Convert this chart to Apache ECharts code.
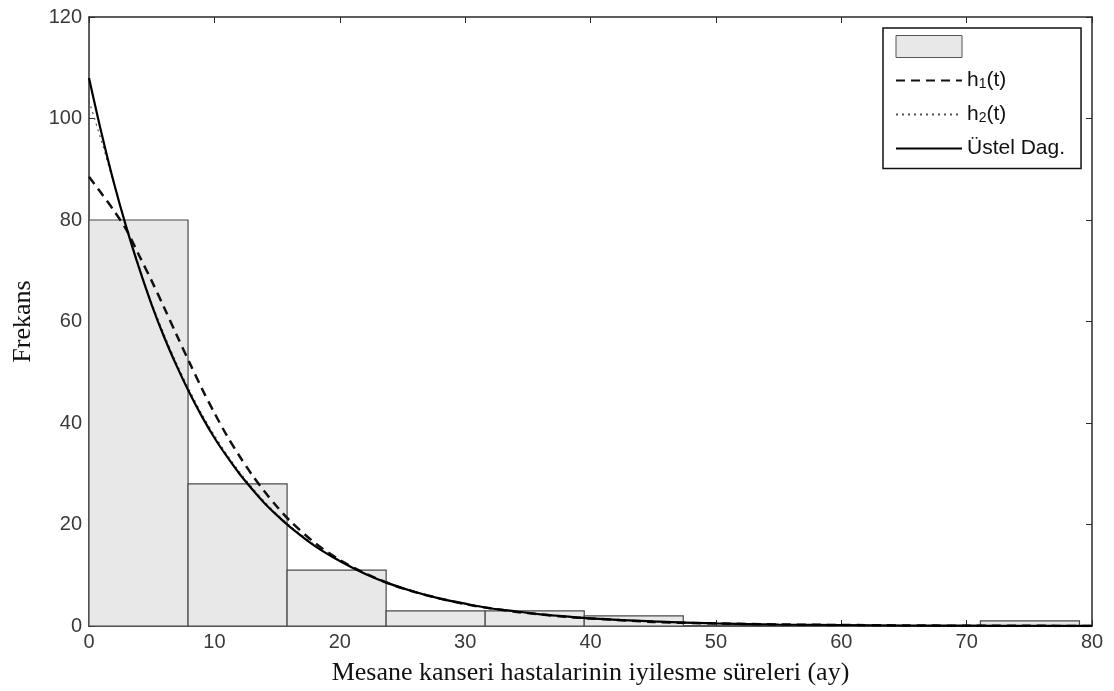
<!DOCTYPE html>
<html><head><meta charset="utf-8">
<script src="https://cdn.jsdelivr.net/npm/echarts@6/dist/echarts.min.js"></script>
<style>html,body{margin:0;padding:0;background:#fff}#c{width:1114px;height:691px}</style>
</head><body><div id="c"></div>
<script>
// Histogram bins (edges) and frequencies
const binStart = [0, 7.9, 15.8, 23.7, 31.6, 39.5, 47.4, 55.3, 63.2, 71.1];
const binEnd   = [7.9, 15.8, 23.7, 31.6, 39.5, 47.4, 55.3, 63.2, 71.1, 79.0];
const binCount = [80, 28, 11, 3, 3, 2, 0, 0, 0, 1];

// Fitted curves sampled at these x positions
const curveX = [0,1,2,3,4,5,6,7,8,9,10,11,12,13,14,15,16,18,20,22,24,26,28,30,32,34,36,38,40,45,50,55,60,65,70,75,80];
const h1Vals = [88.5,85.2,81.8,78.0,73.0,68.0,62.7,57.3,52.0,46.8,42.0,37.5,33.5,29.8,26.5,23.5,20.8,16.4,13.0,10.4,8.3,6.7,5.4,4.3,3.5,2.8,2.3,1.8,1.5,0.8,0.5,0.3,0.2,0.1,0.06,0.03,0.02];
const h2Vals = [103.5,95.5,87.0,78.6,70.8,63.7,57.4,51.7,46.5,41.8,37.6,33.8,30.4,27.3,24.5,22.0,19.8,16.0,12.9,10.4,8.4,6.8,5.5,4.4,3.6,2.9,2.3,1.9,1.5,0.9,0.5,0.3,0.2,0.1,0.06,0.03,0.02];
const expVals = [108.0,97.1,87.2,78.4,70.5,63.3,56.9,51.2,46.0,41.3,37.1,33.4,30.0,27.0,24.2,21.8,19.6,15.8,12.8,10.3,8.3,6.7,5.4,4.4,3.5,2.9,2.3,1.9,1.5,0.9,0.5,0.3,0.2,0.1,0.06,0.03,0.02];

const xTicks = [0,10,20,30,40,50,60,70,80];
const yTicks = [0,20,40,60,80,100,120];

const histData = binStart.map((s,i)=>[s, binEnd[i], binCount[i]]);
const pair = (vals)=>curveX.map((x,i)=>[x, vals[i]]);

const chart = echarts.init(document.getElementById('c'), null, {renderer:'canvas'});
const axisCol = '#2a2a2a';
const labelFont = {color:'#3a3a3a', fontSize:20, fontFamily:'Liberation Sans, Arial, sans-serif'};
const nameFont = {color:'#111', fontSize:26, fontFamily:'Liberation Serif, Times New Roman, serif'};
const mkX = (pos, show) => ({
  type:'value', position:pos, min:0, max:80, interval:10,
  axisLine:{show:true, onZero:false, lineStyle:{color:axisCol, width:1.5}},
  axisTick:{show:true, inside:true, length:6, lineStyle:{color:axisCol}},
  axisLabel:{show:show, margin:6, ...labelFont},
  splitLine:{show:false},
  name: show ? 'Mesane kanseri hastalarinin iyilesme süreleri (ay)' : '',
  nameLocation:'middle', nameGap:34, nameTextStyle:nameFont
});
const mkY = (pos, show) => ({
  type:'value', position:pos, min:0, max:120, interval:20,
  axisLine:{show:true, onZero:false, lineStyle:{color:axisCol, width:1.5}},
  axisTick:{show:true, inside:true, length:6, lineStyle:{color:axisCol}},
  axisLabel:{show:show, margin:7, ...labelFont},
  splitLine:{show:false},
  name: show ? 'Frekans' : '',
  nameLocation:'middle', nameGap:53, nameTextStyle:nameFont
});

const rich = {
  n:{fontSize:21, fontFamily:'Liberation Sans, Arial, sans-serif', color:'#111', lineHeight:22, verticalAlign:'top', padding:[0,0,4,0]},
  s:{fontSize:14, fontFamily:'Liberation Sans, Arial, sans-serif', color:'#111', lineHeight:22, verticalAlign:'bottom'}
};
const hideSym = {opacity:0};

chart.setOption({
  animation:false,
  backgroundColor:'#fff',
  grid:{left:89, right:22, top:17, bottom:65, containLabel:false},
  xAxis:[mkX('bottom', true), mkX('top', false)],
  yAxis:[mkY('left', true), mkY('right', false)],
  legend:{
    orient:'vertical', left:883, top:28,
    padding:[7,16,6,12], itemGap:9, itemWidth:66, itemHeight:22,
    backgroundColor:'#fff', borderColor:'#111', borderWidth:1.5, borderRadius:0,
    textStyle:{rich:rich, fontSize:21, color:'#111'},
    data:[
      {name:' ', icon:'rect', itemStyle:{color:'#e8e8e8', borderColor:'#555', borderWidth:1}},
      {name:'h1(t)', itemStyle:hideSym}, {name:'h2(t)', itemStyle:hideSym}, {name:'Üstel Dag.', itemStyle:hideSym}
    ],
    formatter:function(name){
      if(name===' ') return '{n| }';
      if(name==='h1(t)') return '{n|h}{s|1}{n|(t)}';
      if(name==='h2(t)') return '{n|h}{s|2}{n|(t)}';
      return '{n|' + name + '}';
    }
  },
  series:[
    {
      name:' ', type:'custom', xAxisIndex:0, yAxisIndex:0, z:1,
      itemStyle:{color:'#e8e8e8', borderColor:'#555'},
      data:histData,
      renderItem:function(params, api){
        const p0 = api.coord([api.value(0), api.value(2)]);
        const p1 = api.coord([api.value(1), 0]);
        return {type:'rect', shape:{x:p0[0], y:p0[1], width:p1[0]-p0[0], height:p1[1]-p0[1]},
          style:{fill:'#e8e8e8', stroke:'#4a4a4a', lineWidth:1.2}};
      }
    },
    {
      name:'h1(t)', type:'line', z:3, data:pair(h1Vals), smooth:0.3, symbol:'none', showSymbol:false,
      lineStyle:{color:'#111', width:2.5, type:[9,6]}, itemStyle:{color:'#111'}
    },
    {
      name:'h2(t)', type:'line', z:3, data:pair(h2Vals), smooth:0.3, symbol:'none', showSymbol:false,
      lineStyle:{color:'#555', width:1.2, type:[2,4]}, itemStyle:{color:'#555'}
    },
    {
      name:'Üstel Dag.', type:'line', z:4, data:pair(expVals), smooth:0.3, symbol:'none', showSymbol:false,
      lineStyle:{color:'#000', width:2.2, type:'solid'}, itemStyle:{color:'#000'}
    }
  ]
});
</script>
</body></html>
